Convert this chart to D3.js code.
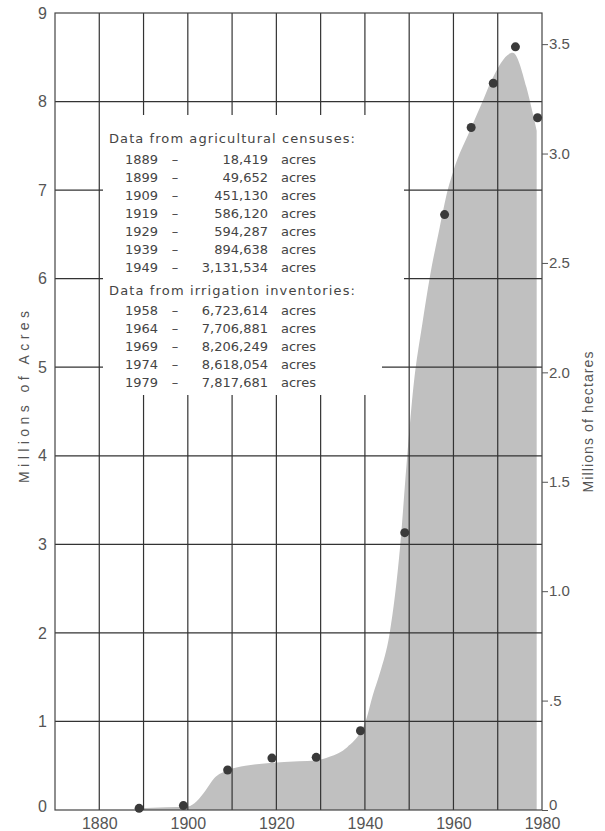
<!DOCTYPE html>
<html>
<head>
<meta charset="utf-8">
<script src="https://cdn.jsdelivr.net/npm/d3@7"></script>
<style>
  html, body { margin: 0; padding: 0; background: #fff; }
  svg { display: block; }
</style>
</head>
<body>
<div id="chart"></div>
<script>
// census / inventory values (acres)
const censusYears = [1889, 1899, 1909, 1919, 1929, 1939, 1949];
const censusAcres = [18419, 49652, 451130, 586120, 594287, 894638, 3131534];
const inventoryYears = [1958, 1964, 1969, 1974, 1979];
const inventoryAcres = [6723614, 7706881, 8206249, 8618054, 7817681];

// smoothed envelope of the shaded area (millions of acres)
const curveYears = [1889, 1895, 1900, 1902, 1904, 1906, 1909, 1913, 1918.5, 1925, 1929, 1932, 1936, 1939, 1940,
  1941.8, 1943.4, 1945.6, 1948.0, 1949.4, 1951.0, 1953, 1954.6, 1956.9, 1958.7, 1960, 1963.7,
  1966.4, 1968.6, 1973.4, 1976.5, 1977.9, 1978.8];
const curveAcres = [0.02, 0.03, 0.04, 0.1, 0.22, 0.36, 0.45, 0.5, 0.53, 0.55, 0.56, 0.6, 0.71, 0.88, 0.98,
  1.3, 1.55, 2.0, 3.0, 3.9, 4.8, 5.5, 6.0, 6.58, 7.0, 7.22, 7.67,
  7.98, 8.24, 8.55, 8.16, 7.87, 7.67];

// axes
const xGrid = [1880, 1890, 1900, 1910, 1920, 1930, 1940, 1950, 1960, 1970];
const xLabels = [1880, 1900, 1920, 1940, 1960, 1980];
const yTicks = [0, 1, 2, 3, 4, 5, 6, 7, 8, 9];
const haTicks = [0, 0.5, 1.0, 1.5, 2.0, 2.5, 3.0, 3.5];
const haLabels = ['0', '.5', '1.0', '1.5', '2.0', '2.5', '3.0', '3.5'];

const ACRES_PER_HA = 2.471;
const W = 605, H = 831;
const m = { left: 55, right: 63, top: 13, bottom: 21 };
const FONT = "'Liberation Sans', Arial, sans-serif";
const LINE = '#333';
const TXT = '#555';

const svg = d3.select('#chart').append('svg')
  .attr('width', W).attr('height', H);

const x = d3.scaleLinear().domain([1870, 1980]).range([m.left, W - m.right]);
const y = d3.scaleLinear().domain([0, 9]).range([H - m.bottom, m.top]);
const yHa = d3.scaleLinear().domain([0, 9 / ACRES_PER_HA]).range([H - m.bottom, m.top]);

// ── shaded area ──
const curve = curveYears.map((yr, i) => ({ yr, v: curveAcres[i] }));
svg.append('path')
  .datum(curve)
  .attr('fill', '#c0c0c0')
  .attr('d', d3.area()
    .x(d => x(d.yr))
    .y0(y(0))
    .y1(d => y(d.v))
    .curve(d3.curveMonotoneX));

// ── grid ──
svg.append('g')
  .selectAll('line')
  .data(xGrid)
  .join('line')
  .attr('x1', d => x(d)).attr('x2', d => x(d))
  .attr('y1', y(9)).attr('y2', y(0))
  .attr('stroke', LINE).attr('stroke-width', 1.2);

svg.append('g')
  .selectAll('line')
  .data(yTicks.slice(1, -1))
  .join('line')
  .attr('x1', x(1870)).attr('x2', x(1980))
  .attr('y1', d => y(d)).attr('y2', d => y(d))
  .attr('stroke', LINE).attr('stroke-width', 1.2);

// white panel behind the data table
svg.append('rect').attr('x', 103).attr('y', 115).attr('width', 279).attr('height', 280).attr('fill', '#fff');
svg.append('rect').attr('x', 382).attr('y', 150).attr('width', 22).attr('height', 150).attr('fill', '#fff');

// ── frame ──
svg.append('rect')
  .attr('x', x(1870)).attr('y', y(9))
  .attr('width', x(1980) - x(1870)).attr('height', y(0) - y(9))
  .attr('fill', 'none').attr('stroke', '#444').attr('stroke-width', 1.2);

// ── axes ──
const gL = svg.append('g')
  .attr('transform', `translate(${x(1870)},0)`)
  .call(d3.axisLeft(y).tickValues(yTicks).tickSize(0).tickPadding(8).tickFormat(d3.format('d')));
const gB = svg.append('g')
  .attr('transform', `translate(0,${y(0)})`)
  .call(d3.axisBottom(x).tickValues(xLabels).tickSize(0).tickPadding(8).tickFormat(d3.format('d')));
const gR = svg.append('g')
  .attr('transform', `translate(${x(1980)},0)`)
  .call(d3.axisRight(yHa).tickValues(haTicks).tickSize(6).tickPadding(1)
    .tickFormat((d, i) => haLabels[i]));

[gL, gB, gR].forEach(g => {
  g.select('.domain').remove();
  g.selectAll('text')
    .attr('fill', TXT)
    .style('font-family', FONT)
    .style('font-size', '16px');
  g.selectAll('line').attr('stroke', '#555');
});
gR.selectAll('text').style('font-size', '15px');
// the zero labels sit a little above the baseline
gL.selectAll('.tick').filter(d => d === 0).select('text').attr('y', -4);
gR.selectAll('.tick').filter(d => d === 0).select('text').attr('y', -5);

// axis titles
svg.append('text')
  .attr('transform', `translate(29,${397}) rotate(-90)`)
  .attr('text-anchor', 'middle')
  .attr('textLength', 172).attr('lengthAdjust', 'spacing')
  .attr('fill', TXT)
  .style('font-family', FONT).style('font-size', '14px')
  .text('Millions of Acres');

svg.append('text')
  .attr('transform', `translate(593,${422}) rotate(-90)`)
  .attr('text-anchor', 'middle')
  .attr('textLength', 141).attr('lengthAdjust', 'spacing')
  .attr('fill', TXT)
  .style('font-family', FONT).style('font-size', '14px')
  .text('Millions of hectares');

// ── data table ──
const fmt = d3.format(',');
const tfont = "'DejaVu Sans', sans-serif";
const table = svg.append('g')
  .attr('fill', '#444')
  .style('font-family', tfont)
  .style('font-size', '13px');

function header(txt, yy) {
  table.append('text').attr('x', 109).attr('y', yy).attr('dy', '0.35em')
    .attr('textLength', 246).attr('lengthAdjust', 'spacing').text(txt);
}
function rows(yrs, vals, y0) {
  yrs.forEach((yr, i) => {
    const yy = y0 + i * 18;
    table.append('text').attr('x', 125).attr('y', yy).attr('dy', '0.35em').text(yr);
    table.append('text').attr('x', 175).attr('y', yy).attr('dy', '0.35em').attr('text-anchor', 'middle').text('–');
    table.append('text').attr('x', 268).attr('y', yy).attr('dy', '0.35em').attr('text-anchor', 'end').text(fmt(vals[i]));
    table.append('text').attr('x', 281).attr('y', yy).attr('dy', '0.35em').text('acres');
  });
}
header('Data from agricultural censuses:', 138);
rows(censusYears, censusAcres, 159);
header('Data from irrigation inventories:', 290);
rows(inventoryYears, inventoryAcres, 310);

// ── data points ──
const pts = censusYears.map((yr, i) => ({ yr, a: censusAcres[i] }))
  .concat(inventoryYears.map((yr, i) => ({ yr, a: inventoryAcres[i] })));
svg.append('g')
  .selectAll('circle')
  .data(pts)
  .join('circle')
  .attr('cx', d => x(d.yr))
  .attr('cy', d => y(d.a / 1e6))
  .attr('r', 4.5)
  .attr('fill', '#3a3a3a');
</script>
</body>
</html>
